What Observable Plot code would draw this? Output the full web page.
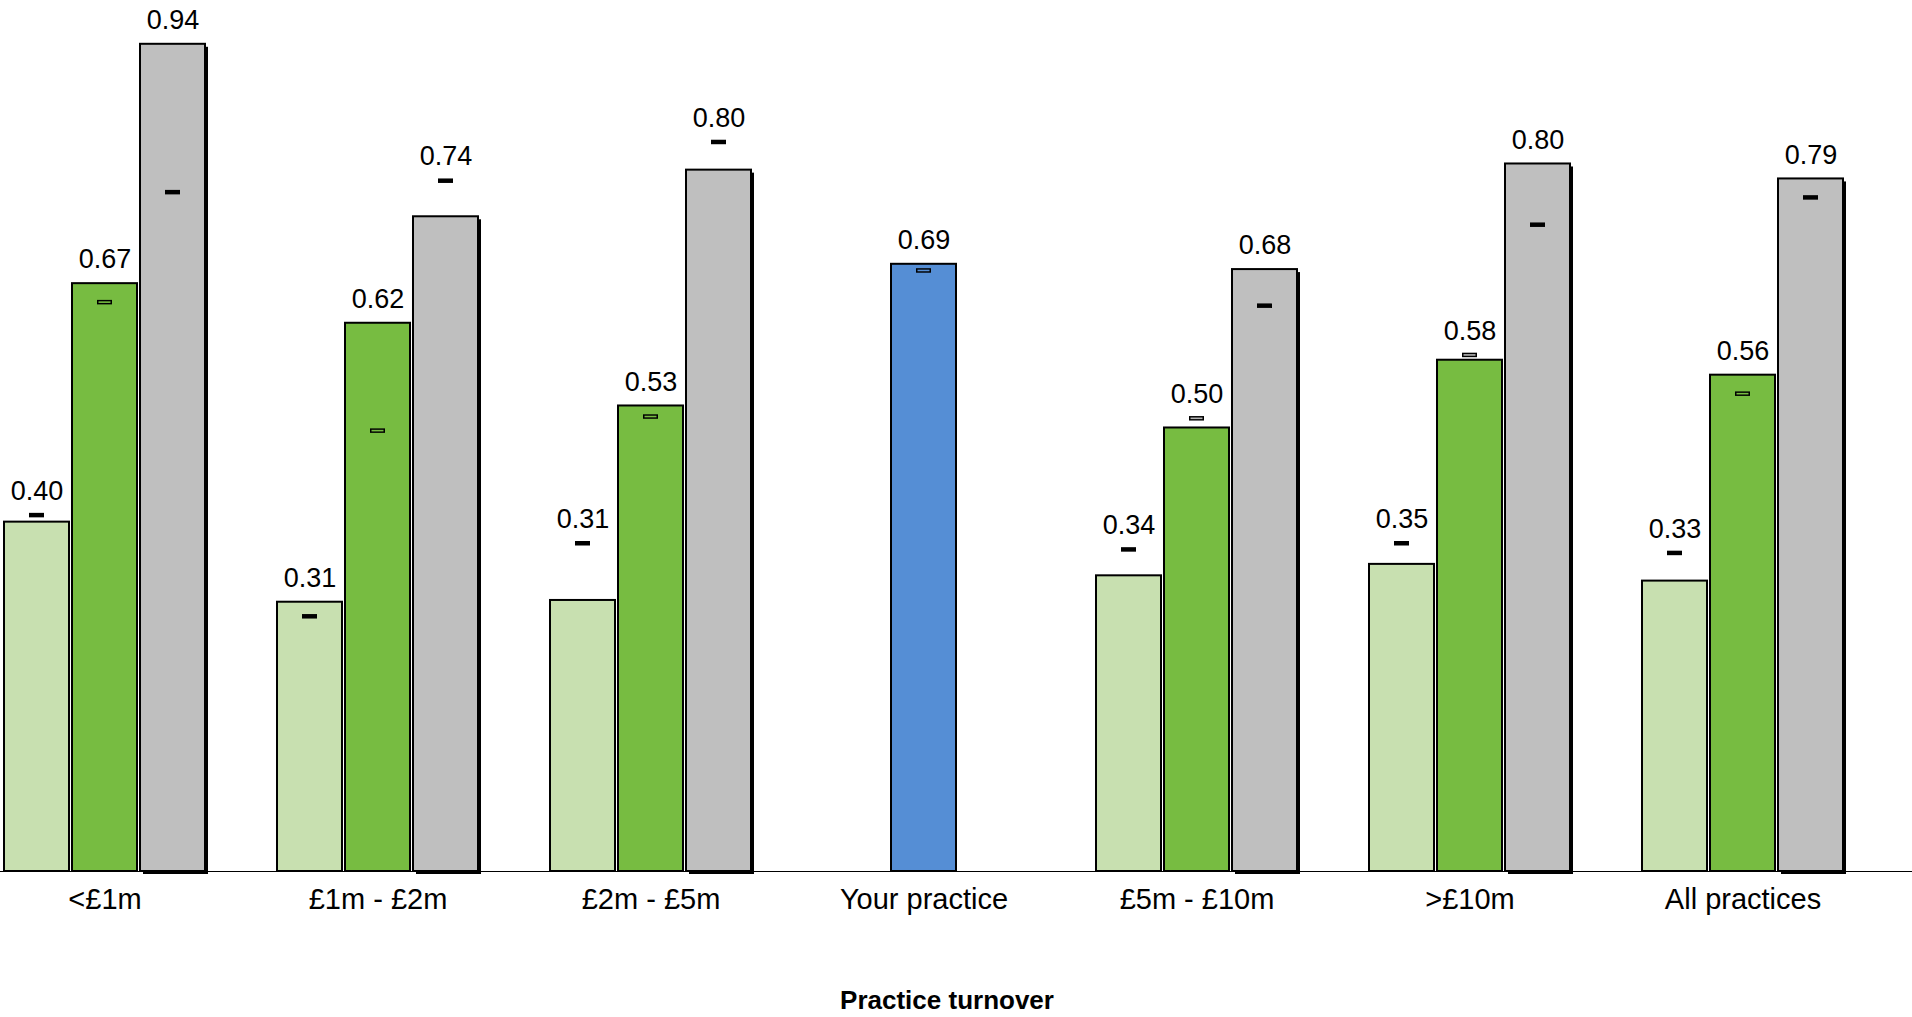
<!DOCTYPE html>
<html>
<head>
<meta charset="utf-8">
<script src="https://cdn.jsdelivr.net/npm/d3@7"></script>
<script src="https://cdn.jsdelivr.net/npm/@observablehq/plot@0.6"></script>
<style>
  html, body { margin: 0; padding: 0; background: #fff; overflow: hidden; }
  #chart svg { display: block; }
  #xtitle {
    width: 1912px; box-sizing: border-box; padding-right: 18px;
    text-align: center; font-family: "Liberation Sans", Arial, sans-serif;
    font-weight: bold; font-size: 26px; line-height: 40px; color: #000;
  }
</style>
</head>
<body>
<div id="chart"></div>
<div id="xtitle">Practice turnover</div>
<script>
// ---- data ----
const groups = ["<£1m", "£1m - £2m", "£2m - £5m", "Your practice", "£5m - £10m", ">£10m", "All practices"];
const lightGreenValues  = [0.397, 0.306, 0.308, null, 0.336, 0.349, 0.330];
const greenValues       = [0.668, 0.623, 0.529, null, 0.504, 0.581, 0.564];
const greyValues        = [0.940, 0.744, 0.797, null, 0.684, 0.804, 0.787];
const yourPracticeValues = [null, null, null, 0.690, null, null, null];
const lightGreenMarkers = [0.405, 0.29, 0.373, null, 0.366, 0.373, 0.362];
const greenMarkers      = [0.647, 0.501, 0.517, null, 0.515, 0.587, 0.543];
const greyMarkers       = [0.772, 0.785, 0.829, null, 0.643, 0.735, 0.766];
const yourPracticeMarkers = [null, null, null, 0.683, null, null, null];

// ---- build table ----
const seriesDefs = [
  {key: "lightGreen", slot: "a", values: lightGreenValues, markers: lightGreenMarkers, color: "#c8e0b0", outlined: false, shadow: false},
  {key: "green", slot: "b", values: greenValues, markers: greenMarkers, color: "#77bc41", outlined: true, shadow: false},
  {key: "grey", slot: "c", values: greyValues, markers: greyMarkers, color: "#bfbfbf", outlined: false, shadow: true},
  {key: "you", slot: "b", values: yourPracticeValues, markers: yourPracticeMarkers, color: "#558ed5", outlined: true, shadow: false}
];
const rows = [];
for (const s of seriesDefs) {
  groups.forEach((g, i) => {
    if (s.values[i] == null) return;
    rows.push({group: g, slot: s.slot, series: s.key, value: s.values[i], marker: s.markers[i],
               color: s.color, outlined: s.outlined, shadow: s.shadow});
  });
}
const fmt = d3.format(".2f");
const FONT = '"Liberation Sans", Arial, sans-serif';

// baseline drawn through the y scale, across the whole width
const baseline = (index, scales) => {
  const y0 = Math.round(scales.y(0)) + 0.5;
  return d3.create("svg:line")
    .attr("x1", -3000).attr("x2", 4000)
    .attr("y1", y0).attr("y2", y0)
    .attr("stroke", "#000").attr("stroke-width", 1.2)
    .node();
};

const chart = Plot.plot({
  width: 1912,
  height: 980,
  marginTop: 0,
  marginLeft: 3,
  marginRight: 0,
  marginBottom: 109,
  style: {fontFamily: FONT, background: "#fff", color: "#000"},
  fx: {domain: groups, paddingInner: 0.255, paddingOuter: 0.12, align: 0},
  x: {domain: ["a", "b", "c"], paddingInner: 0.04, paddingOuter: 0, axis: null},
  y: {domain: [0, 871 / 880], axis: null},
  marks: [
    baseline,
    Plot.barY(rows.filter(d => d.shadow), {fx: "group", x: "slot", y: "value", fill: "#000", dx: 3, dy: 3}),
    Plot.barY(rows, {fx: "group", x: "slot", y: "value", fill: d => d.color, stroke: "#000", strokeWidth: 2}),
    Plot.tickY(rows, {fx: "group", x: "slot", y: "marker", stroke: "#000", strokeWidth: 4.5, insetLeft: 25, insetRight: 25}),
    Plot.tickY(rows.filter(d => d.outlined), {fx: "group", x: "slot", y: "marker",
      stroke: d => d.marker > d.value ? "#b4b4b4" : d.color, strokeWidth: 1.6, insetLeft: 26.5, insetRight: 26.5}),
    Plot.text(rows, {fx: "group", x: "slot", y: d => Math.max(d.value, d.marker), text: d => fmt(d.value),
      dy: -24, fontSize: 27, fill: "#000"}),
    Plot.axisFx({anchor: "bottom", tickSize: 0, tickPadding: 17, fontSize: 29, label: null, fill: "#000"})
  ]
});
document.getElementById("chart").appendChild(chart);
</script>
</body>
</html>
